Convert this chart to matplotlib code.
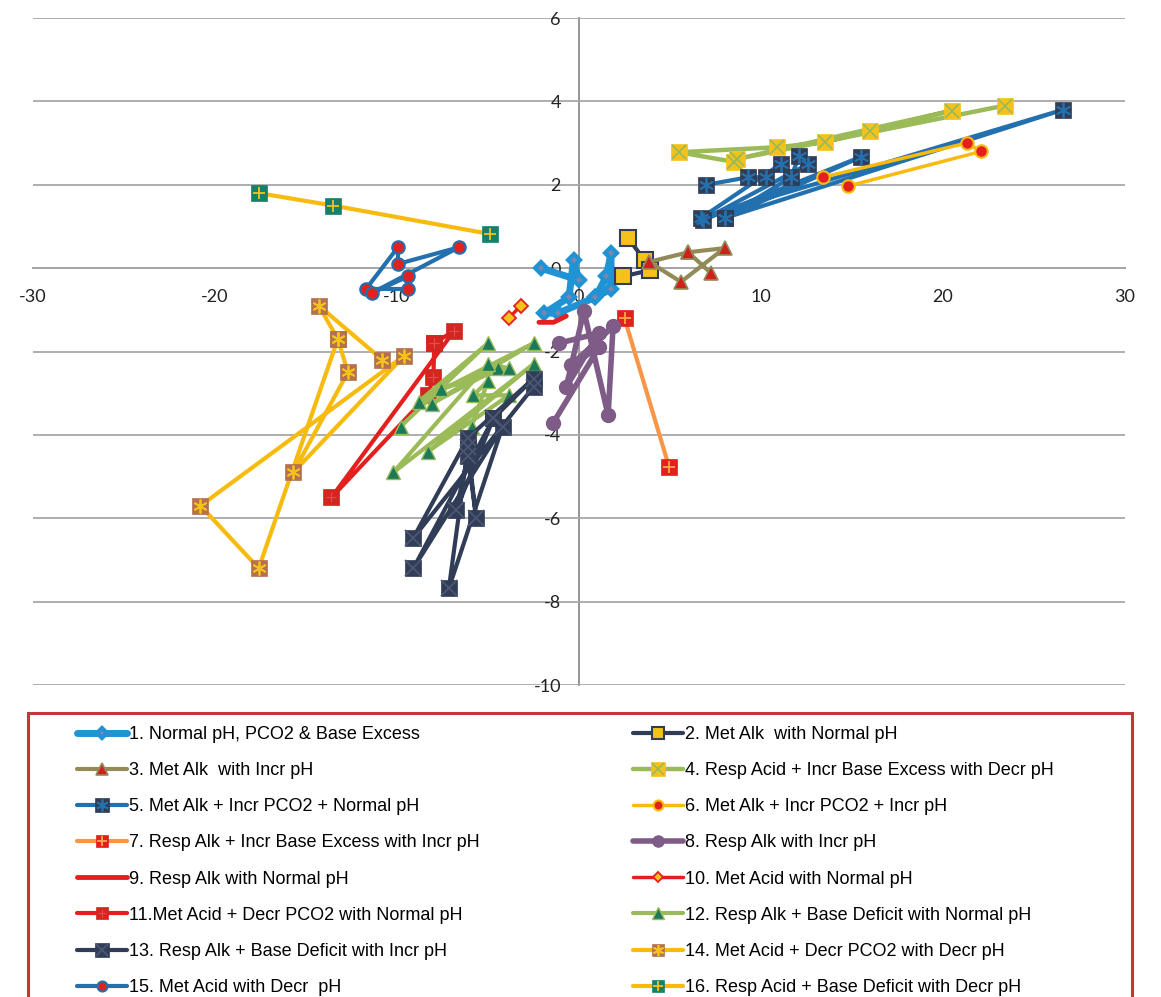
import numpy as np
import matplotlib as mpl
mpl.use("Agg")
import matplotlib.pyplot as plt
from matplotlib.patches import Rectangle

mpl.rcParams['axes.unicode_minus'] = False

# ---- data (x, y pairs in drawing order) ----
x1 = [-2.1, 0.0, -0.3, -0.55, -1.9, -1.15, 0.9, 1.5, 1.76, 1.76, 0.9]
y1 = [0.0, -0.29, 0.2, -0.7, -1.08, -1.08, -0.7, -0.2, 0.36, -0.5, -0.7]
x2 = [2.7, 3.6, 3.9, 2.4]
y2 = [0.72, 0.19, -0.05, -0.2]
x3 = [6.0, 3.85, 5.6, 8.0, 6.0, 7.25]
y3 = [0.38, 0.15, -0.33, 0.48, 0.38, -0.12]
x4 = [8.5, 5.5, 10.9, 13.5, 16.0, 20.5, 8.7, 23.4]
y4 = [2.55, 2.78, 2.9, 3.02, 3.3, 3.78, 2.62, 3.9]
x5 = [7.0, 9.3, 10.3, 11.1, 6.7, 26.6, 8.0, 15.5, 6.8, 12.6, 12.1, 11.65, 8.0]
y5 = [2.0, 2.18, 2.18, 2.5, 1.2, 3.8, 1.2, 2.67, 1.15, 2.5, 2.7, 2.18, 1.2]
x6 = [13.4, 21.3, 22.1, 14.8]
y6 = [2.18, 3.0, 2.8, 1.97]
x7 = [2.5, 4.95]
y7 = [-1.2, -4.77]
x8 = [-1.1, 1.1, -0.7, 0.27, 1.6, 1.87, -0.44, 1.1, -1.43]
y8 = [-1.8, -1.56, -2.85, -1.03, -3.53, -1.4, -2.33, -1.9, -3.72]
x9 = [-2.2, -1.4, -0.7]
y9 = [-1.3, -1.3, -1.15]
x10 = [-3.85, -3.2]
y10 = [-1.2, -0.9]
x11 = [-7.95, -6.85, -13.6, -8.3, -8.0, -7.95]
y11 = [-1.8, -1.5, -5.5, -3.05, -2.6, -1.8]
x12 = [-9.8, -5.0, -8.8, -2.5, -8.1, -4.45, -7.6, -3.85, -5.0, -10.2, -2.5, -8.3,
       -3.85, -5.8, -5.0, -5.9]
y12 = [-3.8, -1.8, -3.2, -1.8, -3.25, -2.4, -2.9, -2.4, -2.3, -4.9, -2.3, -4.4,
       -3.05, -3.05, -2.7, -3.8]
x13 = [-2.5, -9.1, -6.1, -2.5, -4.7, -9.1, -4.2, -7.15, -6.1, -5.65, -6.1, -6.75, -4.7]
y13 = [-2.85, -6.47, -4.07, -2.65, -3.6, -7.2, -3.8, -7.68, -4.3, -6.0, -4.5, -5.8, -3.6]
x14 = [-10.8, -14.3, -13.25, -12.7, -15.7, -9.6, -20.8, -17.6, -13.25]
y14 = [-2.2, -0.9, -1.7, -2.5, -4.9, -2.1, -5.7, -7.2, -1.7]
x15 = [-9.4, -11.7, -9.95, -9.95, -6.6, -11.4, -9.4]
y15 = [-0.5, -0.5, 0.5, 0.1, 0.5, -0.6, -0.2]
x16 = [-17.6, -13.5, -4.9]
y16 = [1.8, 1.5, 0.82]

labels = ["1. Normal pH, PCO2 & Base Excess",
          "2. Met Alk  with Normal pH",
          "3. Met Alk  with Incr pH",
          "4. Resp Acid + Incr Base Excess with Decr pH",
          "5. Met Alk + Incr PCO2 + Normal pH",
          "6. Met Alk + Incr PCO2 + Incr pH",
          "7. Resp Alk + Incr Base Excess with Incr pH",
          "8. Resp Alk with Incr pH",
          "9. Resp Alk with Normal pH",
          "10. Met Acid with Normal pH",
          "11.Met Acid + Decr PCO2 with Normal pH",
          "12. Resp Alk + Base Deficit with Normal pH",
          "13. Resp Alk + Base Deficit with Incr pH",
          "14. Met Acid + Decr PCO2 with Decr pH",
          "15. Met Acid with Decr  pH",
          "16. Resp Acid + Base Deficit with Decr pH"]

xticks = [-30, -20, -10, 0, 10, 20, 30]
yticks = [-10, -8, -6, -4, -2, 0, 2, 4, 6]

# colours
c_lblue = '#1f93d4'
c_navy = '#313c56'
c_olive = '#938b57'
c_lgreen = '#9bbb59'
c_blue = '#2270ae'
c_gold = '#f7bb0f'
c_orange = '#f79646'
c_purple = '#7e5c87'
c_red = '#e3201e'
c_yellow = '#f5c21b'
c_brown = '#b5714d'
c_teal = '#16806b'
c_dgreen = '#1b7a58'

W, H = 1161, 997
fig = plt.figure(figsize=(W/100, H/100), dpi=100)
ax = fig.add_axes([33/W, 1-685/H, (1125-33)/W, (685-18)/H])

handles = []

def series(x, y, lc, lw, mk=None, ms=0, mfc=None, mec=None, mew=1.0,
           ov=None, ovc=None, ovs=None, ovw=1.2):
    ln, = ax.plot(x, y, color=lc, lw=lw, marker=mk if mk else 'None',
                  ms=ms, mfc=mfc, mec=mec, mew=mew, solid_joinstyle='round',
                  solid_capstyle='round', clip_on=False)
    if ov is not None:
        o, = ax.plot(x, y, ls='none', marker=ov, ms=ovs, mec=ovc, mew=ovw,
                     clip_on=False)
        handles.append((ln, o))
    else:
        handles.append(ln)

series(x1, y1, c_lblue, 5, 'D', 6, '#7f86ad', c_lblue, 3)
series(x2, y2, c_navy, 3, 's', 11, c_yellow, c_navy, 1.5)
series(x3, y3, c_olive, 3, '^', 10, '#d0201e', c_olive, 1.2)
series(x4, y4, c_lgreen, 3.2, 's', 12, c_yellow, c_yellow, 0.5,
       ov='x', ovc=c_lgreen, ovs=10, ovw=1.3)
series(x5, y5, c_blue, 3, 's', 12, c_navy, c_navy, 0.5,
       ov=(6, 2, 0), ovc=c_blue, ovs=11, ovw=1.3)
series(x6, y6, c_gold, 2.5, 'o', 9, c_red, c_gold, 1.5)
series(x7, y7, c_orange, 3, 's', 11, c_red, c_red, 0.5,
       ov='+', ovc='#f7a94a', ovs=9, ovw=1.3)
series(x8, y8, c_purple, 4, 'o', 10, c_purple, c_purple, 1)
series(x9, y9, c_red, 3.5)
series(x10, y10, c_red, 2.5, 'D', 7, c_yellow, c_red, 1.3)
series(x11, y11, c_red, 3, 's', 11, '#d42520', '#d42520', 0.5,
       ov='+', ovc='#e0504a', ovs=7, ovw=0.8)
series(x12, y12, c_lgreen, 3, '^', 10, c_dgreen, c_lgreen, 1)
series(x13, y13, c_navy, 3, 's', 12, c_navy, c_navy, 0.5,
       ov='x', ovc='#4b5672', ovs=11, ovw=1.3)
series(x14, y14, c_gold, 3, 's', 11, c_brown, c_brown, 0.5,
       ov=(6, 2, 0), ovc=c_yellow, ovs=10, ovw=1.3)
series(x15, y15, c_blue, 3, 'o', 9, c_red, c_blue, 1.5)
series(x16, y16, c_gold, 3, 's', 11, c_teal, c_teal, 0.5,
       ov='+', ovc=c_yellow, ovs=9, ovw=1.3)

ax.set_xlim(-30, 30)
ax.set_ylim(-10, 6)
ax.set_xticks(xticks)
ax.set_yticks(yticks)
ax.set_xticklabels([str(v) for v in xticks])
ax.set_yticklabels([str(v) for v in yticks])

for s in ['top', 'right']:
    ax.spines[s].set_visible(False)
ax.spines['left'].set_position(('data', 0))
ax.spines['bottom'].set_position(('data', 0))
for s in ['left', 'bottom']:
    ax.spines[s].set_color('#8c8c8c')
    ax.spines[s].set_linewidth(1.3)
    ax.spines[s].set_zorder(0.5)
ax.yaxis.grid(True, color='#a8a8a8', lw=1.3)
ax.set_axisbelow(True)
ax.tick_params(length=0, labelsize=13, labelcolor='#222222', pad=13)
ax.tick_params(axis='x', pad=15)
for t in ax.get_xticklabels() + ax.get_yticklabels():
    t.set_family('Lato')

# legend: odd entries in column 1, even in column 2, red box drawn separately
order = list(range(0, 16, 2)) + list(range(1, 16, 2))
leg = fig.legend([handles[i] for i in order], [labels[i] for i in order],
                 ncol=2, loc='upper left',
                 bbox_to_anchor=(77/W, 1-726/H),
                 prop={'family': 'Liberation Sans', 'size': 13},
                 handlelength=2.75, handletextpad=0.12, labelspacing=1.06,
                 columnspacing=8.5, borderpad=0, markerscale=0.8,
                 frameon=False, borderaxespad=0)
fig.patches.append(Rectangle((28/W, -0.1), 1104/W, (1-713/H)+0.1,
                             transform=fig.transFigure, fill=False,
                             ec='#c0393a', lw=2.2))

fig.savefig('out.png', dpi=100)
